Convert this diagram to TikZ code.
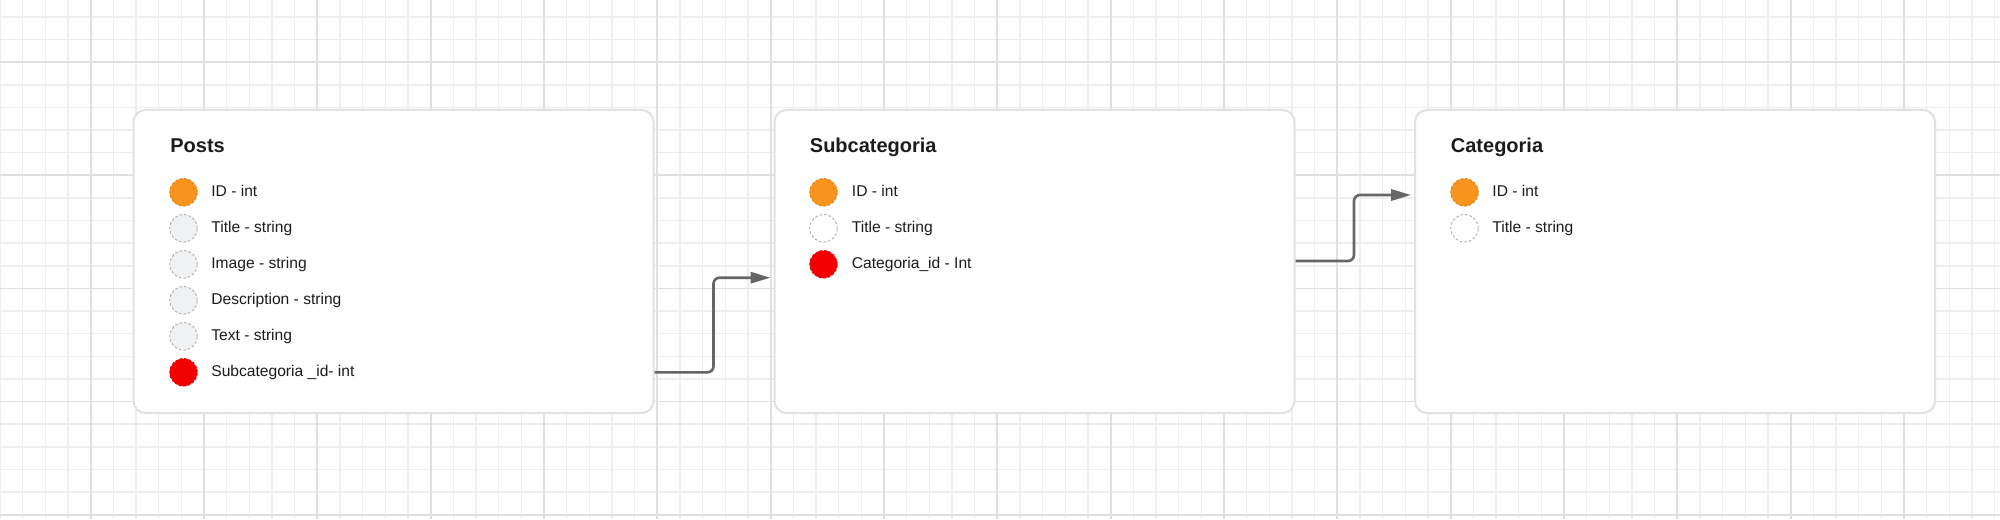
\documentclass[tikz,border=0pt]{standalone}
\usepackage{fontspec}
\setmainfont{Liberation Sans}
\usetikzlibrary{arrows.meta}
\definecolor{minorgrid}{HTML}{EEEEEE}
\definecolor{majorgrid}{HTML}{E0E0E0}
\definecolor{boxline}{HTML}{DFE1E6}
\definecolor{txt}{HTML}{1C1C1C}
\definecolor{pkorange}{HTML}{F8931D}
\definecolor{pkborder}{HTML}{E0861C}
\definecolor{fkred}{HTML}{F00000}
\definecolor{plaingray}{HTML}{F0F1F3}
\definecolor{dotgray}{HTML}{B5B5B5}
\definecolor{linkgray}{HTML}{666666}
\tikzset{
  tbl/.style={draw=boxline, line width=1pt, fill=white, rounded corners=6pt,
    minimum width=260pt, minimum height=151.5pt, inner sep=0pt},
  ttl/.style={anchor=base west, inner sep=0pt, text=txt,
    font=\bfseries\fontsize{10pt}{12pt}\selectfont},
  fld/.style={anchor=base west, inner sep=0pt, text=txt,
    font=\fontsize{7.8pt}{9pt}\selectfont},
  dot/.style={circle, inner sep=0pt, minimum size=13.75pt, line width=0.5pt,
    dash pattern=on 1.3pt off 1pt},
  pkdot/.style={dot, fill=pkorange, draw=pkborder},
  fkdot/.style={dot, fill=fkred, draw=fkred},
  graydot/.style={dot, fill=plaingray, draw=dotgray},
  whitedot/.style={dot, fill=white, draw=dotgray},
  link/.style={draw=linkgray, line width=1.3pt, rounded corners=3pt,
    -{Triangle[length=10pt,width=5.6pt]}, shorten >=1.5pt}
}
\begin{document}
\begin{tikzpicture}[x=0.5pt,y=-0.5pt]
\useasboundingbox (0,0) rectangle (2000,519);
\fill[white] (0,0) rectangle (2000,519);
% grid
\begin{scope}
\clip (0,0) rectangle (2000,519);
\foreach \m in {0,...,88} {\draw[minorgrid, line width=0.75pt] ({22.667*\m},0) -- ({22.667*\m},519);}
\foreach \n in {-1,...,22} {\draw[minorgrid, line width=0.75pt] (0,{17+22.62*\n}) -- (2000,{17+22.62*\n});}
\foreach \k in {0,...,16} {\draw[majorgrid, line width=0.9pt] ({90.667+113.333*\k},0) -- ({90.667+113.333*\k},519);}
\foreach \k in {0,...,4} {\draw[majorgrid, line width=0.9pt] (0,{62.24+113.1*\k}) -- (2000,{62.24+113.1*\k});}
\end{scope}
% tables
\node[tbl] (posts) at (393.5,261.5) {};
\node[tbl] (sub) at (1034.5,261.5) {};
\node[tbl] (cat) at (1675,261.5) {};
% Posts
\node[ttl] (ptitle) at (170,152.7) {Posts};
\node[pkdot] (p1) at (183.5,192.3) {};
\node[graydot] (p2) at (183.5,228.3) {};
\node[graydot] (p3) at (183.5,264.3) {};
\node[graydot] (p4) at (183.5,300.3) {};
\node[graydot] (p5) at (183.5,336.3) {};
\node[fkdot] (p6) at (183.5,372.3) {};
\node[fld] (p1t) at (211,196.7) {ID - int};
\node[fld] (p2t) at (211,232.7) {Title - string};
\node[fld] (p3t) at (211,268.7) {Image - string};
\node[fld] (p4t) at (211,304.7) {Description - string};
\node[fld] (p5t) at (211,340.7) {Text - string};
\node[fld] (p6t) at (211,376.7) {Subcategoria \_id- int};
% Subcategoria
\node[ttl] (stitle) at (809.5,152.7) {Subcategoria};
\node[pkdot] (s1) at (823.5,192.3) {};
\node[whitedot] (s2) at (823.5,228.3) {};
\node[fkdot] (s3) at (823.5,264.3) {};
\node[fld] (s1t) at (851.5,196.7) {ID - int};
\node[fld] (s2t) at (851.5,232.7) {Title - string};
\node[fld] (s3t) at (851.5,268.7) {Categoria\_id - Int};
% Categoria
\node[ttl] (ctitle) at (1450.5,152.7) {Categoria};
\node[pkdot] (c1) at (1464.5,192.3) {};
\node[whitedot] (c2) at (1464.5,228.3) {};
\node[fld] (c1t) at (1492,196.7) {ID - int};
\node[fld] (c2t) at (1492,232.7) {Title - string};
% connectors
\coordinate (a1) at (713.5,277.7);
\coordinate (a2) at (1354,195);
\draw[link] (posts.east |- p6) -| (a1) -- (sub.west |- a1);
\draw[link] (sub.east |- 0,261) -| (a2) -- (cat.west |- a2);
\end{tikzpicture}
\end{document}
